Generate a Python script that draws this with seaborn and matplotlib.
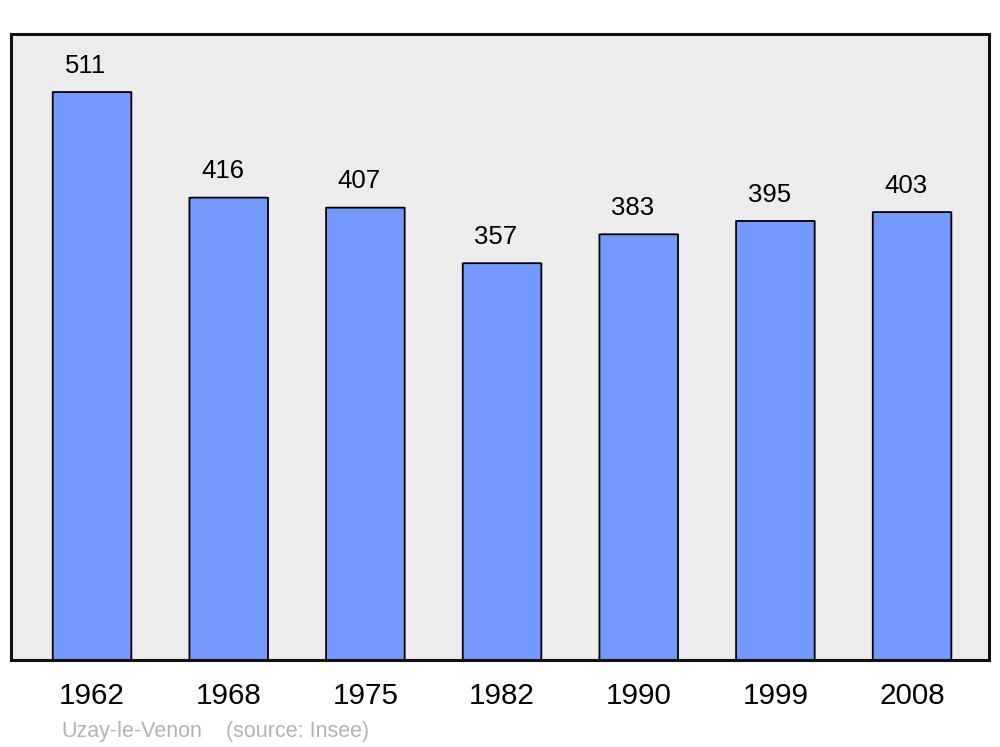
import matplotlib
matplotlib.use('Agg')
import matplotlib.pyplot as plt
import seaborn as sns
import pandas as pd
from matplotlib.patches import FancyBboxPatch

years = ['1962', '1968', '1975', '1982', '1990', '1999', '2008']
population = [511, 416, 407, 357, 383, 395, 403]
town = 'Uzay-le-Venon'
source = '(source: Insee)'

df = pd.DataFrame({'year': years, 'population': population})

sns.set_theme(style='white')
plt.rcParams['font.family'] = ['Liberation Sans', 'DejaVu Sans']

fig = plt.figure(figsize=(10, 7.47), dpi=100)
ax = fig.add_axes([0.011, 1 - 660 / 747, 0.978, 626 / 747])
ax.set_facecolor('#ececec')

sns.barplot(data=df, x='year', y='population', color='#7399ff', width=0.575,
            edgecolor='black', linewidth=1.3, saturation=1, ax=ax)

# rounded bar corners
for p in list(ax.patches):
    x, y = p.get_x(), p.get_y()
    w, h = p.get_width(), p.get_height()
    rb = FancyBboxPatch((x, y), w, h, boxstyle='round,pad=0,rounding_size=0.025',
                        mutation_aspect=1 / 0.123, facecolor='#7399ff',
                        edgecolor='black', linewidth=1.3, zorder=2)
    p.remove()
    ax.add_patch(rb)
    # value label sits a little left of the bar centre
    ax.text(x + w / 2 - 0.045, h + 23.5, str(int(h)), ha='center', va='center',
            fontsize=18.5, color='black')

ax.set_xlim(-0.593, 6.563)
ax.set_ylim(0, 563.2)
ax.set_yticks([])
ax.set_xlabel('')
ax.set_ylabel('')
ax.tick_params(axis='x', length=0, labelsize=21.3, pad=16, colors='black')
for s in ax.spines.values():
    s.set_linewidth(2.2)
    s.set_color('#111111')

fig.text(0.061, 1 - 731.5 / 747, town, fontsize=15.5, color='#b3b3b3', va='center')
fig.text(0.226, 1 - 731.5 / 747, source, fontsize=15.5, color='#b3b3b3', va='center')

fig.savefig('out.png', dpi=100)
